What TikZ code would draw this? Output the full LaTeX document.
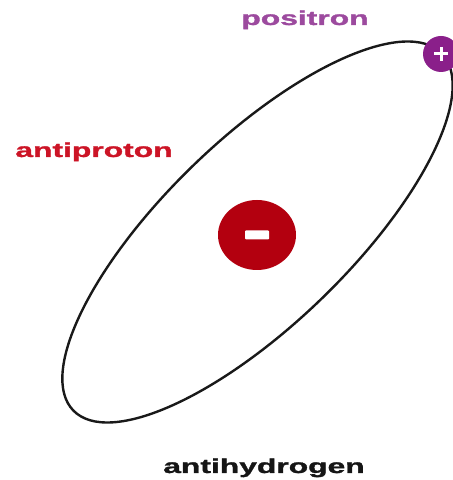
\documentclass[tikz,border=0pt]{standalone}
\usepackage{graphicx}
\usepackage{fontspec}
\setmainfont{Liberation Sans}
\newfontfamily\heavyfont[FakeBold=1.2]{Liberation Sans Bold}
\usetikzlibrary{shapes.geometric}
\definecolor{antired}{HTML}{B3000F}
\definecolor{labred}{HTML}{CC1426}
\definecolor{pospurple}{HTML}{8A1F8A}
\definecolor{labpurple}{HTML}{9C4A9E}
\definecolor{labblack}{HTML}{151515}
\tikzset{
  lab/.style={inner sep=0pt, anchor=base, font=\heavyfont\fontsize{20}{24}\selectfont},
  orbit/.style={line width=2.4pt, black!90},
}
\newcommand{\wide}[1]{\scalebox{1.59}[1]{#1}}
\begin{document}
\begin{tikzpicture}[x=1pt,y=1pt]
\useasboundingbox (0,0) rectangle (453,480);
% orbit
\draw[orbit, rotate around={44.1:(257.5,248)}] (257.5,248) ellipse [x radius=256.5pt, y radius=92.5pt];
% antiproton
\node[ellipse, fill=antired, minimum width=78pt, minimum height=70pt, inner sep=0pt] (anti) at (257,245) {};
\node[fill=white, rounded corners=1pt, minimum width=24pt, minimum height=9pt, inner sep=0pt] (minus) at (anti.center) {};
% positron
\node[circle, fill=pospurple, minimum size=36pt, inner sep=0pt] (pos) at (441,426) {};
\coordinate (pl) at ([xshift=-7pt]pos.center);
\coordinate (pr) at ([xshift=7pt]pos.center);
\coordinate (pt) at ([yshift=7pt]pos.center);
\coordinate (pb) at ([yshift=-7pt]pos.center);
\draw[white, line width=3pt] (pl) -- (pr);
\draw[white, line width=3pt] (pt) -- (pb);
% labels
\node[lab, text=labpurple] (lpos) at (305,455) {\wide{positron}};
\node[lab, text=labred] (lanti) at (94,323) {\wide{antiproton}};
\node[lab, text=labblack] (lhyd) at (264,7) {\wide{antihydrogen}};
\end{tikzpicture}
\end{document}
